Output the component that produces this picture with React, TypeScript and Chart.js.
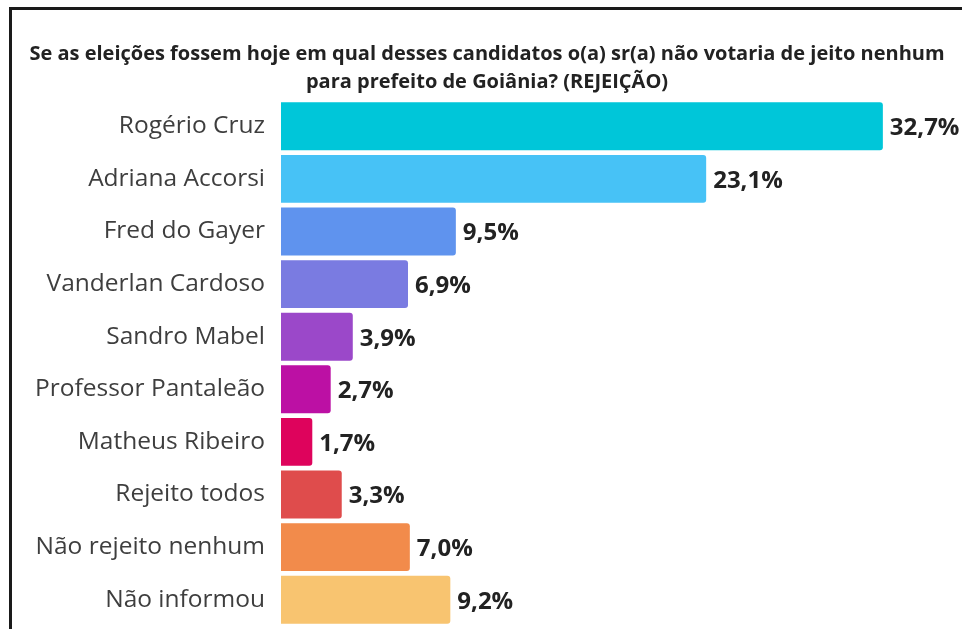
import React, { useEffect, useRef } from "react";
import { Chart, registerables } from "chart.js";

Chart.register(...registerables);

const categories = [
  "Rogério Cruz",
  "Adriana Accorsi",
  "Fred do Gayer",
  "Vanderlan Cardoso",
  "Sandro Mabel",
  "Professor Pantaleão",
  "Matheus Ribeiro",
  "Rejeito todos",
  "Não rejeito nenhum",
  "Não informou",
];

const values = [32.7, 23.1, 9.5, 6.9, 3.9, 2.7, 1.7, 3.3, 7.0, 9.2];

const barColors = [
  "#00C6D9",
  "#47C2F6",
  "#5F93EE",
  "#7A7BE1",
  "#9B48C9",
  "#BC10A4",
  "#DE035C",
  "#DF4C4C",
  "#F28B4B",
  "#F8C470",
];

const titleLines = [
  "Se as eleições fossem hoje em qual desses candidatos o(a) sr(a) não votaria de jeito nenhum",
  "para prefeito de Goiânia? (REJEIÇÃO)",
];

const FONT = "'Open Sans', 'Noto Sans', sans-serif";

const valueLabelPlugin = {
  id: "valueLabels",
  afterDatasetsDraw(chart: any) {
    const { ctx } = chart;
    const meta = chart.getDatasetMeta(0);
    ctx.save();
    ctx.font = `bold 24px ${FONT}`;
    ctx.fillStyle = "#222";
    ctx.textAlign = "left";
    ctx.textBaseline = "middle";
    meta.data.forEach((bar: any, i: number) => {
      const v = values[i];
      const txt = v.toFixed(1).replace(".", ",") + "%";
      ctx.fillText(txt, bar.x + 7, bar.y + 2);
    });
    ctx.restore();
  },
};

export default function App() {
  const ref = useRef<HTMLCanvasElement | null>(null);

  useEffect(() => {
    if (!ref.current) return;
    const chart = new Chart(ref.current, {
      type: "bar",
      data: {
        labels: categories,
        datasets: [
          {
            data: values,
            backgroundColor: barColors,
            borderRadius: 3,
            borderSkipped: "start",
            barPercentage: 0.91,
            categoryPercentage: 1,
          },
        ],
      },
      options: {
        indexAxis: "y",
        animation: false,
        responsive: true,
        maintainAspectRatio: false,
        layout: { padding: { left: 12, right: 0, top: 0, bottom: 3 } },
        plugins: {
          legend: { display: false },
          tooltip: { enabled: false },
          title: {
            display: true,
            text: titleLines,
            color: "#222",
            font: { family: FONT, size: 20, weight: "bold", lineHeight: 1.4 },
            padding: { top: 40, bottom: 4 },
          },
        },
        scales: {
          x: {
            display: false,
            min: 0,
            max: 37,
          },
          y: {
            grid: { display: false, drawTicks: false },
            border: { display: false },
            ticks: {
              color: "#3e3e3e",
              padding: 16,
              font: { family: FONT, size: 24.5 },
            },
            afterFit(scale: any) {
              scale.width = 269;
              scale.paddingTop = 0;
              scale.paddingBottom = 0;
            },
          },
        },
      },
      plugins: [valueLabelPlugin],
    });
    return () => chart.destroy();
  }, []);

  return (
    <div style={{ position: "fixed", left: 0, top: 0, width: 962, height: 629, background: "#fff" }}>
      <div style={{ position: "absolute", left: 0, top: 0, width: 962, height: 629 }}>
        <canvas ref={ref} />
      </div>
      <div style={{ position: "absolute", left: 9, top: 7, width: 953, height: 3, background: "#1a1a1a" }} />
      <div style={{ position: "absolute", left: 9, top: 7, width: 3, height: 622, background: "#1a1a1a" }} />
    </div>
  );
}
